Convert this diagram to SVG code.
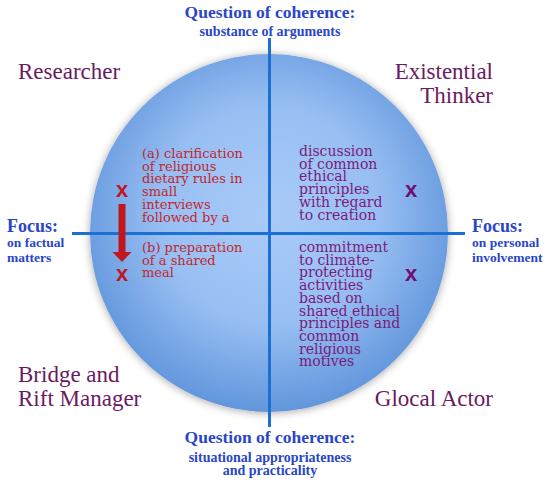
<svg xmlns="http://www.w3.org/2000/svg" width="550" height="485" viewBox="0 0 550 485">
<defs>
<radialGradient id="sphere" cx="50%" cy="45%" r="55%">
<stop offset="0" stop-color="#a9cbf8"/>
<stop offset="0.55" stop-color="#98bff3"/>
<stop offset="1" stop-color="#6296dc"/>
</radialGradient>
<filter id="shadow" x="-10%" y="-10%" width="120%" height="120%">
<feDropShadow dx="0" dy="1" stdDeviation="4" flood-color="#000" flood-opacity="0.35"/>
</filter>
</defs>
<style>
.axis{stroke:#1c70d2;stroke-width:3;fill:none}
.qt{font-family:"Liberation Serif",serif;font-weight:bold;fill:#2a46c8;text-anchor:middle}
.ft{font-family:"Liberation Serif",serif;font-weight:bold;fill:#2a46c8}
.role{font-family:"Liberation Serif",serif;font-size:23px;fill:#6a1a62}
.red{font-family:"DejaVu Serif",serif;font-size:13px;fill:#c0272d}
.pur{font-family:"DejaVu Serif",serif;font-size:14px;fill:#7b1b7b}
.xr{font-family:"Liberation Sans",sans-serif;font-weight:bold;font-size:22px;fill:#c0161e;text-anchor:middle}
.xp{font-family:"Liberation Sans",sans-serif;font-weight:bold;font-size:22px;fill:#6f0f6f;text-anchor:middle}
</style>
<rect width="550" height="485" fill="#ffffff"/>
<g id="circle">
<circle cx="269" cy="233" r="179" fill="url(#sphere)" filter="url(#shadow)"/>
</g>
<g id="connectors">
<line class="axis" x1="269.5" y1="38" x2="269.5" y2="427"/>
<line class="axis" x1="72" y1="233.5" x2="465" y2="233.5"/>
<path d="M118.5 204 H125.5 V252 H131.5 L122 262 L112.5 252 H118.5 Z" fill="#c0161e"/>
</g>
<g id="top-axis-label">
<text class="qt" x="270" y="18" font-size="17.5">Question of coherence:</text>
<text class="qt" x="270" y="36" font-size="14">substance of arguments</text>
</g>
<g id="bottom-axis-label">
<text class="qt" x="270" y="443" font-size="17.5">Question of coherence:</text>
<text class="qt" x="270" y="462" font-size="14">situational appropriateness</text>
<text class="qt" x="270" y="475" font-size="14">and practicality</text>
</g>
<g id="left-axis-label">
<text class="ft" x="7" y="232" font-size="18">Focus:</text>
<text class="ft" x="7" y="247" font-size="13.5">on factual</text>
<text class="ft" x="7" y="262" font-size="13.5">matters</text>
</g>
<g id="right-axis-label">
<text class="ft" x="472" y="232" font-size="18">Focus:</text>
<text class="ft" x="472" y="247" font-size="13.5">on personal</text>
<text class="ft" x="472" y="262" font-size="13.5">involvement</text>
</g>
<g id="researcher"><text class="role" x="18" y="79">Researcher</text></g>
<g id="existential-thinker">
<text class="role" x="493" y="79" text-anchor="end">Existential</text>
<text class="role" x="493" y="103" text-anchor="end">Thinker</text>
</g>
<g id="bridge-rift-manager">
<text class="role" x="18" y="382">Bridge and</text>
<text class="role" x="18" y="406">Rift Manager</text>
</g>
<g id="glocal-actor"><text class="role" x="493" y="406" text-anchor="end">Glocal Actor</text></g>
<g id="researcher-example">
<text class="red">
<tspan x="142" y="158">(a) clarification</tspan>
<tspan x="142" y="170.7">of religious</tspan>
<tspan x="142" y="183.4">dietary rules in</tspan>
<tspan x="142" y="196.1">small</tspan>
<tspan x="142" y="208.8">interviews</tspan>
<tspan x="142" y="221.5">followed by a</tspan>
<tspan x="142" y="252">(b) preparation</tspan>
<tspan x="142" y="264.7">of a shared</tspan>
<tspan x="142" y="277.4">meal</tspan>
</text>
<text class="xr" x="122" y="197">x</text>
<text class="xr" x="122" y="281">x</text>
</g>
<g id="existential-example">
<text class="pur">
<tspan x="299" y="156">discussion</tspan>
<tspan x="299" y="168.7">of common</tspan>
<tspan x="299" y="181.4">ethical</tspan>
<tspan x="299" y="194.1">principles</tspan>
<tspan x="299" y="206.8">with regard</tspan>
<tspan x="299" y="219.5">to creation</tspan>
</text>
<text class="xp" x="411" y="197">x</text>
</g>
<g id="glocal-example">
<text class="pur">
<tspan x="299" y="252">commitment</tspan>
<tspan x="299" y="264.7">to climate-</tspan>
<tspan x="299" y="277.4">protecting</tspan>
<tspan x="299" y="290.1">activities</tspan>
<tspan x="299" y="302.8">based on</tspan>
<tspan x="299" y="315.5">shared ethical</tspan>
<tspan x="299" y="328.2">principles and</tspan>
<tspan x="299" y="340.9">common</tspan>
<tspan x="299" y="353.6">religious</tspan>
<tspan x="299" y="366.3">motives</tspan>
</text>
<text class="xp" x="411" y="281">x</text>
</g>
</svg>
